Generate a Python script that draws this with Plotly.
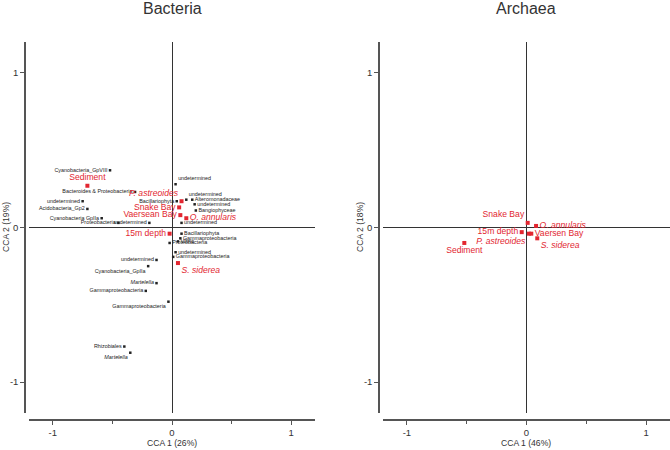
import plotly.graph_objects as go

# ---------------- data ----------------
# Bacteria panel: taxa (black)
bac_taxa = ["Cyanobacteria_GpVIII", "Bacteroides & Proteobacteria", "undetermined",
            "Acidobacteria_Gp2", "Cyanobacteria GpIIa", "Proteobacteria", "undetermined",
            "Bacillariophyta", "undetermined", "undetermined", "Alteromonadaceae",
            "undetermined", "Bangiophyceae", "undetermined", "Bacillariophyta",
            "Gammaproteobacteria", "Vibrio", "Proteobacteria", "undetermined",
            "Gammaproteobacteria", "undetermined", "Cyanobacteria_GpIIa", "Martelella",
            "Gammaproteobacteria", "Gammaproteobacteria", "Rhizobiales", "Martelella"]
bac_taxa_x = [-0.52, -0.31, -0.75, -0.71, -0.59, -0.45, -0.19,
              0.04, 0.03, 0.12, 0.17, 0.19, 0.20, 0.08, 0.08,
              0.07, 0.05, -0.02, 0.03, 0.01, -0.13, -0.20, -0.13,
              -0.22, -0.03, -0.40, -0.35]
bac_taxa_y = [0.37, 0.23, 0.17, 0.12, 0.06, 0.03, 0.03,
              0.17, 0.28, 0.18, 0.18, 0.15, 0.11, 0.03, -0.04,
              -0.07, -0.09, -0.10, -0.16, -0.19, -0.21, -0.25, -0.36,
              -0.41, -0.48, -0.77, -0.81]

# Bacteria panel: samples / environment (red)
bac_samp = ["Sediment", "P. astreoides", "Snake Bay", "Vaersean Bay",
            "O. annularis", "15m depth", "S. siderea"]
bac_samp_x = [-0.71, 0.08, 0.06, 0.07, 0.12, -0.02, 0.05]
bac_samp_y = [0.27, 0.17, 0.13, 0.08, 0.06, -0.04, -0.23]

# Archaea panel: samples / environment (red)
arc_samp = ["Snake Bay", "O. annularis", "15m depth", "Vaersen Bay",
            "P. astreoides", "S. siderea", "Sediment"]
arc_samp_x = [0.01, 0.08, -0.04, 0.04, 0.02, 0.09, -0.52]
arc_samp_y = [0.03, 0.01, -0.03, -0.04, -0.04, -0.07, -0.10]

italic_names = {"Martelella", "P. astreoides", "O. annularis", "S. siderea"}

tick_vals = [-1, 0, 1]
tick_text = ["-1", "0", "1"]

# ---------------- styles ----------------
bac_taxa_pos = ["middle left", "middle left", "middle left", "middle left", "middle left",
                "middle left", "middle left", "middle left", "top right", "top right",
                "middle right", "middle right", "middle right", "middle right", "middle right",
                "middle right", "middle right", "middle right", "middle right", "middle right",
                "middle left", "bottom left", "middle left", "middle left", "bottom left",
                "middle left", "bottom left"]
bac_samp_pos = ["top center", "top left", "middle left", "middle left",
                "middle right", "middle left", "bottom right"]
arc_samp_pos = ["top left", "middle right", "middle left", "middle right",
                "bottom left", "bottom right", "bottom center"]

RED = "rgb(226,38,48)"
AXC = "#555555"
FONT = "Liberation Sans, Arial, sans-serif"


def fmt(names):
    return [f"<i>{n}</i>" if n in italic_names else n for n in names]


fig = go.Figure()

fig.add_trace(go.Scatter(
    x=bac_taxa_x, y=bac_taxa_y, text=fmt(bac_taxa), mode="markers+text",
    textposition=bac_taxa_pos, xaxis="x", yaxis="y",
    marker=dict(symbol="square", size=2.5, color="#222222"),
    textfont=dict(family=FONT, size=5.4, color="#222222"),
    cliponaxis=False, showlegend=False, hoverinfo="text"))

fig.add_trace(go.Scatter(
    x=bac_samp_x, y=bac_samp_y, text=fmt(bac_samp), mode="markers+text",
    textposition=bac_samp_pos, xaxis="x", yaxis="y",
    marker=dict(symbol="square", size=4, color=RED),
    textfont=dict(family=FONT, size=8.6, color=RED),
    cliponaxis=False, showlegend=False, hoverinfo="text"))

fig.add_trace(go.Scatter(
    x=arc_samp_x, y=arc_samp_y, text=fmt(arc_samp), mode="markers+text",
    textposition=arc_samp_pos, xaxis="x2", yaxis="y2",
    marker=dict(symbol="square", size=4, color=RED),
    textfont=dict(family=FONT, size=8.6, color=RED),
    cliponaxis=False, showlegend=False, hoverinfo="text"))

W, H = 670, 450
ydom = [1 - 413 / H, 1 - 42 / H]
xpos = 1 - 420 / H


def xax(domain):
    return dict(domain=domain, range=[-1.2, 1.2], anchor="free", position=xpos,
                showline=True, linecolor=AXC, linewidth=1.5, ticks="outside",
                ticklen=4, tickwidth=1.2, tickcolor=AXC, tickvals=tick_vals,
                ticktext=tick_text, minor=dict(tickvals=[-0.5, 0.5], ticks="outside",
                                               ticklen=3, tickcolor=AXC, tickwidth=1.2),
                showgrid=False, zeroline=True, zerolinecolor="#333333", zerolinewidth=1.3,
                tickfont=dict(family=FONT, size=9.5, color="#333333"), fixedrange=True)


def yax(xp):
    return dict(domain=ydom, range=[-1.2, 1.2], anchor="free", position=xp,
                showline=True, linecolor=AXC, linewidth=1.5, ticks="outside",
                ticklen=4, tickwidth=1.2, tickcolor=AXC, tickvals=tick_vals,
                ticktext=tick_text, showgrid=False, zeroline=True,
                zerolinecolor="#333333", zerolinewidth=1.3,
                tickfont=dict(family=FONT, size=9.5, color="#333333"), fixedrange=True)


fig.update_layout(
    width=W, height=H, margin=dict(l=0, r=0, t=0, b=0),
    paper_bgcolor="white", plot_bgcolor="white",
    xaxis=xax([29 / W, 315 / W]),
    yaxis=yax(25 / W),
    xaxis2=xax([383 / W, 1.0]),
    yaxis2=yax(379 / W),
)

ann = []
def txt(x, y, s, size, angle=0):
    ann.append(dict(x=x / W, y=1 - y / H, xref="paper", yref="paper", text=s,
                    showarrow=False, textangle=angle, xanchor="center", yanchor="middle",
                    font=dict(family=FONT, size=size, color="#333333")))

txt(172, 8, "Bacteria", 16)
txt(526, 8, "Archaea", 16)
txt(172, 443, "CCA 1 (26%)", 8.6)
txt(526, 443, "CCA 1 (46%)", 8.6)
txt(6, 227, "CCA 2 (19%)", 8.6, -90)
txt(360, 227, "CCA 2 (18%)", 8.6, -90)
fig.update_layout(annotations=ann)

fig.write_html("out.html", config={"displayModeBar": False},
               post_script="document.body.style.margin='0';document.body.style.overflow='hidden';")
